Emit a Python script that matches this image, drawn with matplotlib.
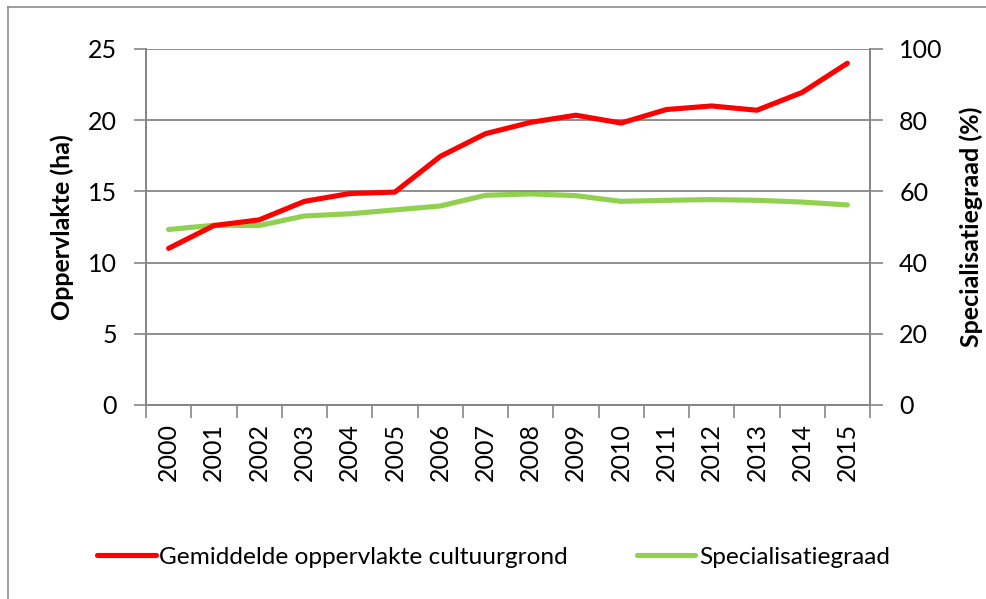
import numpy as np
import matplotlib.pyplot as plt
from matplotlib.lines import Line2D

years = ['2000', '2001', '2002', '2003', '2004', '2005', '2006', '2007',
         '2008', '2009', '2010', '2011', '2012', '2013', '2014', '2015']
oppervlakte = [11.0, 12.6, 13.0, 14.3, 14.85, 14.95, 17.45, 19.05,
               19.85, 20.35, 19.8, 20.75, 21.0, 20.7, 21.95, 24.0]
specialisatie = [49.3, 50.5, 50.4, 53.1, 53.7, 54.8, 55.9, 58.9,
                 59.3, 58.8, 57.2, 57.5, 57.7, 57.5, 57.0, 56.2]

plt.rcParams['font.family'] = ['Lato', 'DejaVu Sans']
grey = '#868686'
red = '#FF0000'
green = '#92D050'

fig = plt.figure(figsize=(9.87, 5.99), dpi=100)
# chart area border (only top and left visible in the original)
fig.lines.append(Line2D([8 / 987, 1], [1 - 7 / 599, 1 - 7 / 599], transform=fig.transFigure,
                        color='#8C8C8C', linewidth=1.2))
fig.lines.append(Line2D([8 / 987, 8 / 987], [0, 1 - 7 / 599], transform=fig.transFigure,
                        color='#8C8C8C', linewidth=1.2))

ax = fig.add_axes([146 / 987, 1 - 405 / 599, 724 / 987, 356 / 599])
ax2 = ax.twinx()

x = np.arange(len(years))
l1, = ax.plot(x, oppervlakte, color=red, linewidth=3.7, solid_capstyle='round',
              solid_joinstyle='round', label='Gemiddelde oppervlakte cultuurgrond', zorder=3)
l2, = ax2.plot(x, specialisatie, color=green, linewidth=3.7, solid_capstyle='round',
               solid_joinstyle='round', label='Specialisatiegraad', zorder=3)
ax.set_zorder(ax2.get_zorder() + 1)
ax.patch.set_visible(False)

ax.set_xlim(-0.5, len(years) - 0.5)
ax.set_ylim(0, 25)
ax2.set_ylim(0, 100)
ax.set_yticks(np.arange(0, 26, 5))
ax2.set_yticks(np.arange(0, 101, 20))

ax.set_xticks(x)
ax.set_xticklabels(years, rotation=90)
ax.set_xticks(np.arange(-0.5, len(years), 1), minor=True)
ax.tick_params(axis='x', which='major', length=0, pad=13, labelsize=18)
ax.tick_params(axis='x', which='minor', length=9, width=1.2, color=grey)
ax.tick_params(axis='y', length=9, width=1.2, color=grey, labelsize=18, pad=12)
ax2.tick_params(axis='y', length=9, width=1.2, color=grey, labelsize=18, pad=12)

ax.grid(axis='y', color=grey, linewidth=1.3)
for a in (ax, ax2):
    for s in a.spines.values():
        s.set_color(grey)
        s.set_linewidth(1.3)
    a.spines['top'].set_visible(False)

ax.set_ylabel('Oppervlakte (ha)', fontsize=18, fontweight='bold', labelpad=10)
ax2.set_ylabel('Specialisatiegraad (%)', fontsize=18, fontweight='bold', labelpad=12)

fig.legend(handles=[l1, l2], loc='center', bbox_to_anchor=(0.5, 1 - 557 / 599), ncol=2,
           frameon=False, fontsize=17.6, handlelength=2.4, handletextpad=0.15,
           columnspacing=2.8)

fig.savefig('out.png', dpi=100)
